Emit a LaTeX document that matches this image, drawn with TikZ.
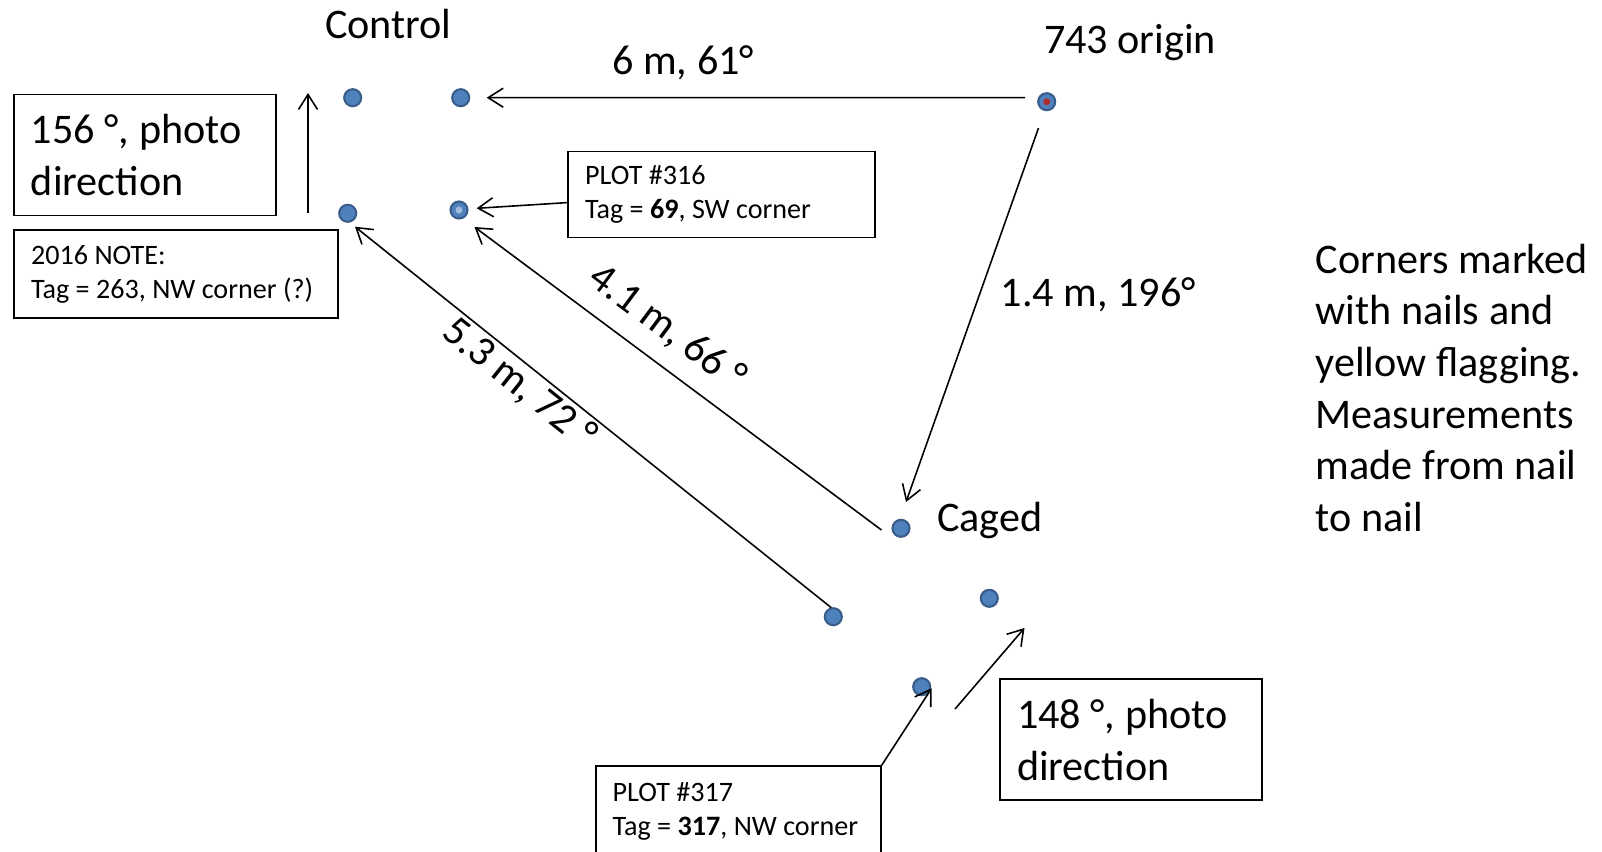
\documentclass[tikz,border=0pt]{standalone}
\usepackage{fontspec}
\setmainfont{Carlito}
\usetikzlibrary{arrows.meta, positioning}
\definecolor{nailblue}{RGB}{79,129,189}
\definecolor{nailrim}{RGB}{56,93,138}
\definecolor{originred}{RGB}{170,45,45}
\definecolor{nailpale}{RGB}{160,188,220}

\begin{document}
\begin{tikzpicture}[
    nail/.style={circle, fill=nailblue, draw=nailrim, line width=0.6pt,
                 minimum size=0.17cm, inner sep=0pt},
    lbl/.style={inner sep=0pt, font=\fontsize{12pt}{14.7pt}\selectfont},
    photobox/.style={draw, line width=0.5pt, align=flush left, inner xsep=0.17cm,
                     inner ysep=0pt, text width=2.28cm, minimum height=1.21cm,
                     font=\fontsize{12pt}{14.7pt}\selectfont},
    tagbox/.style={draw, line width=0.5pt, align=flush left, inner xsep=0.17cm,
                   inner ysep=0pt, font=\fontsize{8pt}{9.75pt}\selectfont},
    arr/.style={-{Straight Barb[length=1.5mm,width=1.9mm]}, line width=0.45pt}
]
\useasboundingbox (0,0) rectangle (16.02,-8.51);

% nails, control plot
\node[nail] (ctl_nw) at (3.527,-0.977) {};
\node[nail] (ctl_ne) at (4.607,-0.977) {};
\node[nail] (ctl_sw) at (3.477,-2.133) {};
\node[nail, path picture={\fill[nailpale] (path picture bounding box.center) circle (0.035);}] (ctl_se) at (4.590,-2.100) {};
% 743 origin
\node[nail, path picture={\fill[originred] (path picture bounding box.center) circle (0.035);}] (origin) at (10.467,-1.017) {};
% nails, caged plot
\node[nail] (cage_nw) at (9.010,-5.283) {};
\node[nail] (cage_ne) at (9.893,-5.983) {};
\node[nail] (cage_sw) at (8.333,-6.167) {};
\node[nail] (cage_se) at (9.217,-6.867) {};

\node[lbl, anchor=base] (ctl_lbl) at (3.883,-0.383) {Control};
\node[lbl, anchor=base west] (origin_lbl) at (10.433,-0.533) {743 origin};
\node[lbl, right=0.26cm of cage_nw, yshift=0.08cm] (cage_lbl) {Caged};

\node[photobox] (ctl_photo) at (1.45,-1.55) {156 °, photo\\direction};
\node[photobox] (cage_photo) at (11.31,-7.397) {148 °, photo\\direction};

\node[tagbox, text width=2.90cm, minimum height=0.88cm] (note263) at (1.762,-2.742) {2016 NOTE:\\Tag = 263, NW corner (?)};
\node[tagbox, text width=2.73cm, minimum height=0.86cm] (plot316) at (7.217,-1.945) {PLOT \#316\\Tag = \textbf{69}, SW corner};
\node[tagbox, text width=2.51cm, minimum height=0.9cm] (plot317) at (7.382,-8.113) {PLOT \#317\\Tag = \textbf{317}, NW corner};

\node[lbl, anchor=west, align=left] (nail_note) at (13.15,-3.877) {Corners marked\\with nails and\\yellow flagging.\\Measurements\\made from nail\\to nail};

% photo directions
\coordinate (ctl_cam) at (3.08,-2.13);
\coordinate (ctl_look) at (3.08,-0.93);
\coordinate (cage_cam) at (9.55,-7.09);
\coordinate (cage_look) at (10.245,-6.28);
\draw[arr] (ctl_cam) -- (ctl_look);
\draw[arr] (cage_cam) -- (cage_look);

% measurements
\draw[arr] ([shift={(-0.217,0.04)}]origin.center) -- node[lbl, pos=0.635, above=0.17cm] (lbl_6m) {6 m, 61°} ([xshift=0.26cm]ctl_ne.center);
\draw[arr] ([shift={(-0.082,-0.263)}]origin.center) -- node[lbl, pos=0.445, right=0.205cm] (lbl_14m) {1.4 m, 196°} ([shift={(0.05,0.263)}]cage_nw.center);
\draw[arr] ([shift={(-0.195,-0.017)}]cage_nw.center) -- node[lbl, pos=0.576, sloped, above=0.16cm] (lbl_41m) {4.1 m, 66 °} ([shift={(0.155,-0.17)}]ctl_se.center);
\draw[arr] ([shift={(-0.02,0.09)}]cage_sw.center) -- node[lbl, pos=0.629, sloped, below=0.025cm] (lbl_53m) {5.3 m, 72 °} ([shift={(0.073,-0.134)}]ctl_sw.center);

% tag call-outs
\draw[arr] (plot316.183) -- ([shift={(0.177,0.017)}]ctl_se.center);
\draw[arr] (plot317.north east) -- ([shift={(0.1,-0.015)}]cage_se.center);
\end{tikzpicture}
\end{document}
